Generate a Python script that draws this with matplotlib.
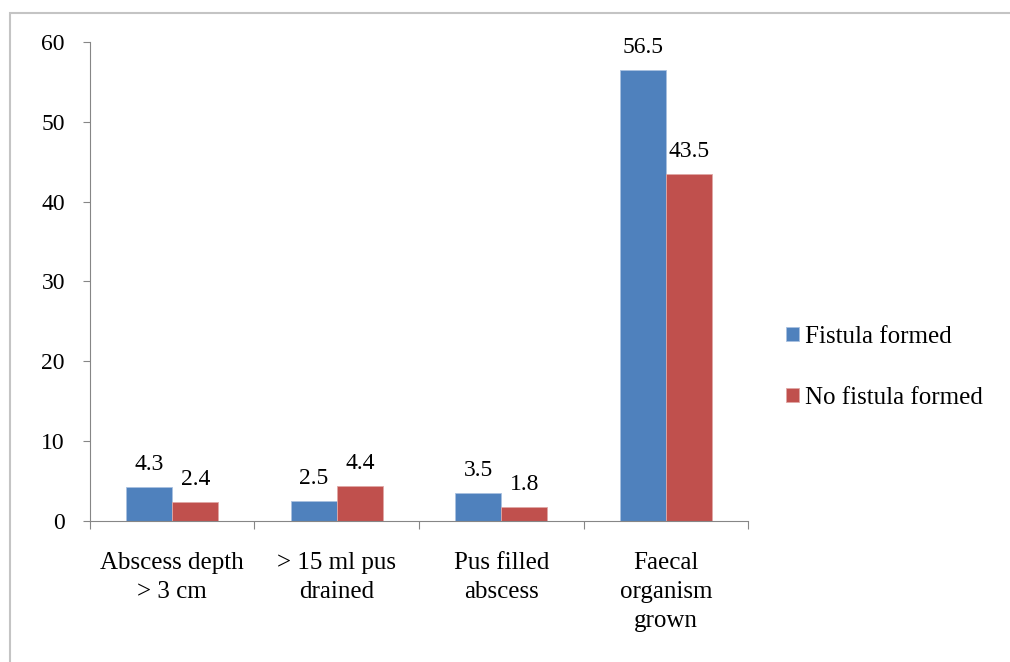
import matplotlib.pyplot as plt
import matplotlib.patches as mpatches
import numpy as np

plt.rcParams['font.family'] = ['Liberation Serif', 'DejaVu Serif']

categories = ['Abscess depth\n> 3 cm', '> 15 ml pus\ndrained', 'Pus filled\nabscess', 'Faecal\norganism\ngrown']
fistula_formed = [4.3, 2.5, 3.5, 56.5]
no_fistula_formed = [2.4, 4.4, 1.8, 43.5]
series_names = ['Fistula formed', 'No fistula formed']
yticks = [0, 10, 20, 30, 40, 50, 60]

blue = '#4F81BD'
red = '#C0504D'
axis_grey = '#868686'

fig = plt.figure(figsize=[10.1, 6.62], dpi=100)

# light grey frame around the chart area
fig.patches.append(mpatches.Rectangle((0.0099, -0.01), 1.0, 0.99, transform=fig.transFigure,
                                      fill=False, edgecolor='#c4c4c4', linewidth=1.5))

ax = fig.add_axes([0.0891, 0.213, 0.6515, 0.7237])
x = np.arange(len(categories))
w = 0.28

b1 = ax.bar(x - w / 2, fistula_formed, width=w, color=blue, edgecolor='#a9c1e0', linewidth=0.6,
            label=series_names[0], zorder=2)
b2 = ax.bar(x + w / 2, no_fistula_formed, width=w, color=red, edgecolor='#e0a8a6', linewidth=0.6,
            label=series_names[1], zorder=2)

for bars, vals in [(b1, fistula_formed), (b2, no_fistula_formed)]:
    for bar, v in zip(bars, vals):
        ax.text(bar.get_x() + bar.get_width() / 2, v + 1.5, f'{v}', ha='center', va='bottom',
                fontsize=17)

ax.set_xlim(-0.5, 3.5)
ax.set_ylim(0, 60)
ax.set_yticks(yticks)
ax.tick_params(axis='y', labelsize=17, length=5, color=axis_grey, pad=13)

# category boundaries carry the x tick marks
ax.set_xticks(np.arange(-0.5, 4.0, 1.0))
ax.set_xticklabels([])
ax.tick_params(axis='x', length=6, color=axis_grey)
for xi, lab in zip(x, categories):
    ax.text(xi, -3.9, lab, ha='center', va='top', fontsize=18, linespacing=1.4)

for s in ['top', 'right']:
    ax.spines[s].set_visible(False)
for s in ['left', 'bottom']:
    ax.spines[s].set_color(axis_grey)

leg = fig.legend(loc='center left', bbox_to_anchor=(0.756, 0.445), frameon=False, fontsize=18,
                 handlelength=0.5, handleheight=0.5, handletextpad=0.25, labelspacing=1.55)

plt.savefig('out.png', dpi=100)
